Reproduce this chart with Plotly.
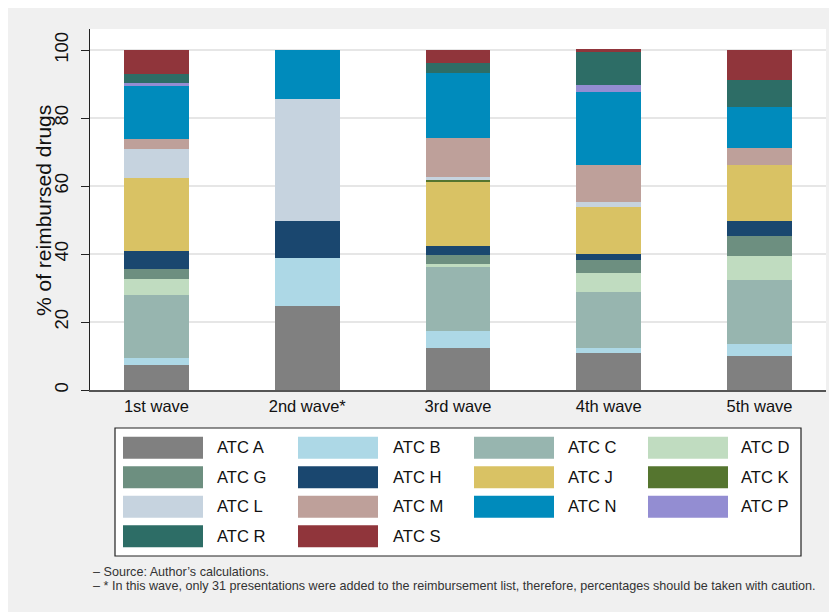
import plotly.graph_objects as go

waves = ["1st wave", "2nd wave*", "3rd wave", "4th wave", "5th wave"]
atc_labels = ["ATC A", "ATC B", "ATC C", "ATC D", "ATC G", "ATC H", "ATC J", "ATC K",
              "ATC L", "ATC M", "ATC N", "ATC P", "ATC R", "ATC S"]
atc_colors = ["#808080", "#add8e6", "#97b5af", "#c0dcc0", "#6d8f80", "#1a476f", "#d9c264",
              "#55752f", "#c6d3df", "#bea09a", "#008bbc", "#938dd2", "#2d6d66", "#90353b"]

atc_a = [7.4, 24.7, 12.4, 10.9, 10.0]
atc_b = [2.0, 14.1, 5.0, 1.5, 3.5]
atc_c = [18.5, 0.0, 18.8, 16.5, 18.8]
atc_d = [4.7, 0.0, 0.9, 5.6, 7.1]
atc_g = [2.9, 0.0, 2.6, 3.8, 5.9]
atc_h = [5.4, 10.9, 2.6, 1.8, 4.4]
atc_j = [21.5, 0.0, 18.8, 13.8, 16.5]
atc_k = [0.0, 0.0, 0.6, 0.0, 0.0]
atc_l = [8.4, 35.9, 0.9, 1.5, 0.0]
atc_m = [3.1, 0.0, 11.5, 10.9, 5.0]
atc_n = [15.5, 14.4, 19.1, 21.5, 12.1]
atc_p = [0.9, 0.0, 0.0, 1.8, 0.0]
atc_r = [2.8, 0.0, 2.9, 9.7, 7.9]
atc_s = [6.9, 0.0, 3.9, 0.9, 8.8]

series = [atc_a, atc_b, atc_c, atc_d, atc_g, atc_h, atc_j, atc_k,
          atc_l, atc_m, atc_n, atc_p, atc_r, atc_s]

y_ticks = [0, 20, 40, 60, 80, 100]
y_title = "% of reimbursed drugs"
notes = ["– Source: Author’s calculations.",
         "– * In this wave, only 31 presentations were added to the reimbursement list, therefore, percentages should be taken with caution."]

W, H = 829, 604
L, R, T, B = 82, 818, 21, 382

def px(x):
    return (x - L) / (R - L)

def py(y):
    return (B - y) / (B - T)

fig = go.Figure()
for lab, col, vals in zip(atc_labels, atc_colors, series):
    fig.add_trace(go.Bar(x=waves, y=vals, name=lab, marker=dict(color=col, line=dict(width=0)),
                         width=0.431, showlegend=False))

shapes = []
annotations = []
# legend box
shapes.append(dict(type="rect", xref="paper", yref="paper", x0=px(107), x1=px(793), y0=py(420), y1=py(548),
                   fillcolor="white", line=dict(color="#222222", width=1.2), layer="above"))
col_sw = [115, 290, 466, 640]
col_tx = [207, 383, 558, 731]
row_cy = [439.7, 469.2, 498.7, 528.2]
for i, (lab, col) in enumerate(zip(atc_labels, atc_colors)):
    r, c = divmod(i, 4)
    cy = row_cy[r]
    shapes.append(dict(type="rect", xref="paper", yref="paper", x0=px(col_sw[c]), x1=px(col_sw[c] + 80),
                       y0=py(cy + 11), y1=py(cy - 11), fillcolor=col, line=dict(width=0), layer="above"))
    annotations.append(dict(xref="paper", yref="paper", x=px(col_tx[c]), y=py(cy), text=lab,
                            showarrow=False, xanchor="left", yanchor="middle",
                            font=dict(size=16.6, color="#111111")))
for j, t in enumerate(notes):
    annotations.append(dict(xref="paper", yref="paper", x=px(83), y=py(563.5 + 14.5 * j), text=t,
                            showarrow=False, xanchor="left", yanchor="middle",
                            font=dict(size=12.6, color="#333333")))
# y-axis title
annotations.append(dict(xref="paper", yref="paper", x=px(35), y=py(203), text=y_title, textangle=-90,
                        showarrow=False, xanchor="center", yanchor="middle",
                        font=dict(size=21, color="#111111")))

fig.update_layout(
    width=W, height=H,
    barmode="stack",
    paper_bgcolor="#f0f0f0",
    plot_bgcolor="white",
    margin=dict(l=L, r=W - R, t=T, b=H - B, pad=0),
    font=dict(family="Liberation Sans, Arial, sans-serif", color="#111111"),
    shapes=shapes,
    annotations=annotations,
    xaxis=dict(range=[-0.441, 4.441], showline=True, linecolor="#555555", linewidth=2,
               ticks="", showgrid=False, tickfont=dict(size=16.5), zeroline=False),
    yaxis=dict(range=[0, 106.2], tickvals=y_ticks, ticks="outside", ticklen=8, tickcolor="#222222",
               tickwidth=1, showline=True, linecolor="#222222", linewidth=1, showgrid=True,
               gridcolor="#e6e6e6", gridwidth=1.5, zeroline=False, tickangle=-90,
               ticklabelstandoff=6, tickfont=dict(size=18.5)),
)

fig.write_html("out.html")
